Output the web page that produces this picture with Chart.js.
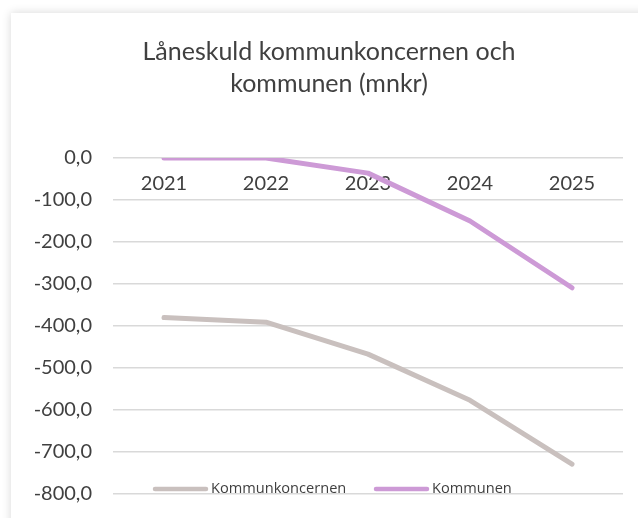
<!DOCTYPE html>
<html>
<head>
<meta charset="utf-8">
<script src="https://cdn.jsdelivr.net/npm/chart.js@4"></script>
<style>
  html, body { margin: 0; padding: 0; background: #fff; overflow: hidden; }
  .card {
    position: absolute; left: 11px; top: 13px; width: 700px; height: 600px;
    background: #fff; box-shadow: 0 0 9px rgba(0, 0, 0, 0.16);
  }
  #myChart { position: absolute; left: 0; top: 0; }
</style>
</head>
<body>
<div class="card"></div>
<canvas id="myChart" width="638" height="518"></canvas>
<script>
const years = ["2021", "2022", "2023", "2024", "2025"];
const koncernen = [-380, -391, -467, -577, -729];
const kommunen = [0, 0, -36, -150, -309];
const titleLines = ["Låneskuld kommunkoncernen och", "kommunen (mnkr)"];
const seriesNames = ["Kommunkoncernen", "Kommunen"];
const seriesColors = ["#c9c0be", "#cd9ad6"];

const textColor = "#404040";

// Excel style legend, drawn inside the plot near the bottom
const legendPlugin = {
  id: "bottomLegend",
  afterDraw(chart) {
    const ctx = chart.ctx;
    const items = [
      { x: 155, text: seriesNames[0], color: seriesColors[0] },
      { x: 376, text: seriesNames[1], color: seriesColors[1] },
    ];
    const y = 489;
    ctx.save();
    items.forEach((it) => {
      ctx.strokeStyle = it.color;
      ctx.lineWidth = 4.5;
      ctx.lineCap = "round";
      ctx.beginPath();
      ctx.moveTo(it.x, y);
      ctx.lineTo(it.x + 51, y);
      ctx.stroke();
      ctx.fillStyle = textColor;
      ctx.font = "14.6px 'Open Sans'";
      ctx.textBaseline = "middle";
      ctx.textAlign = "left";
      ctx.fillText(it.text, it.x + 56, y);
    });
    ctx.restore();
  },
};

const ctx = document.getElementById("myChart").getContext("2d");
const myChart = new Chart(ctx, {
  type: "line",
  data: {
    labels: years,
    datasets: [
      {
        label: seriesNames[0],
        data: koncernen,
        borderColor: seriesColors[0],
        backgroundColor: seriesColors[0],
        borderWidth: 5,
        pointRadius: 0,
        borderCapStyle: "round",
        borderJoinStyle: "round",
      },
      {
        label: seriesNames[1],
        data: kommunen,
        borderColor: seriesColors[1],
        backgroundColor: seriesColors[1],
        borderWidth: 5,
        pointRadius: 0,
        borderCapStyle: "round",
        borderJoinStyle: "round",
      },
    ],
  },
  options: {
    responsive: false,
    animation: false,
    layout: { padding: { left: 35, right: 15, top: 0, bottom: 24 } },
    plugins: {
      legend: { display: false },
      tooltip: { enabled: false },
      title: {
        display: true,
        text: titleLines,
        color: textColor,
        font: { family: "Lato", size: 25, weight: "normal", lineHeight: 1.28 },
        padding: { top: 36, bottom: 58 },
      },
    },
    scales: {
      x: {
        position: { y: 0 },
        offset: true,
        afterFit(scale) {
          // labels sit inside the plot, so the axis takes no room
          scale.height = 0;
          scale.paddingTop = 0;
          scale.paddingBottom = 0;
        },
        grid: { display: false, drawTicks: false },
        border: { display: false },
        ticks: {
          color: textColor,
          font: { family: "Lato", size: 20 },
          padding: 14,
        },
      },
      y: {
        min: -800,
        max: 0,
        afterFit(scale) {
          scale.width = 78;
          scale.paddingTop = 0;
          scale.paddingBottom = 0;
        },
        grid: { color: "#d9d9d9", lineWidth: 1.5, drawTicks: false },
        border: { display: false },
        ticks: {
          stepSize: 100,
          color: textColor,
          font: { family: "Lato", size: 20 },
          padding: 21,
          callback: (v) => v.toFixed(1).replace(".", ","),
        },
      },
    },
  },
  plugins: [legendPlugin],
});
</script>
</body>
</html>
